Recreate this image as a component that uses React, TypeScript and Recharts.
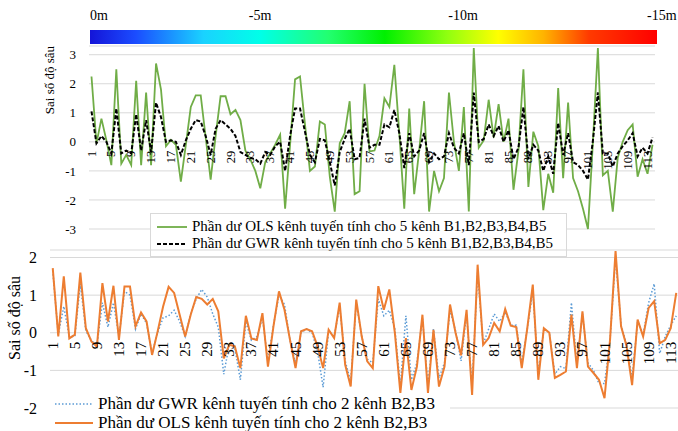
import { LineChart, Line, XAxis, YAxis, CartesianGrid, Legend } from "recharts";

const SERIF = '"Liberation Serif", "Times New Roman", serif';

// category labels 1..114 (sample points)
const categories = Array.from({ length: 114 }, (_, i) => String(i + 1));

// residuals, 5 bands model (top panel)
const olsFiveBands = [
  2.25, -0.05, 0.8, 0.05, -0.8, 2.5, -0.75, -0.45, -0.8, 2.1,
  -0.8, 1.7, -0.8, 2.7, 1.8, -0.15, 0.07, -0.1, -1.37, -0.1,
  1.2, 1.6, 1.6, 0.15, -1.3, 0.2, 1.57, 1.57, 0.95, 1.1,
  0.75, -0.3, -0.6, -1.0, -1.6, -0.7, -0.4, -0.1, 0.25, -2.3,
  -0.1, 2.15, 2.25, 0.6, -1.0, -0.85, 0.7, 0.6, -1.2, -2.4,
  -0.05, 0.3, 1.4, -1.8, -1.7, 2.0, -0.33, -0.3, 0.2, 1.5,
  1.2, 2.65, 0.3, -2.3, 1.15, -1.8, -0.3, 1.4, -2.4, -1.0,
  -1.7, -1.25, 1.7, 0.0, -1.0, 1.2, -2.4, 3.23, -0.2, 0.05,
  1.45, 0.15, 1.3, 0.0, 0.8, -1.65, -0.3, 2.5, -1.55, 0.35,
  -0.15, -2.35, -1.1, -1.75, 1.85, -1.25, 1.35, -1.25, -1.7, -2.3,
  -3.0, 0.0, 3.23, -1.15, -1.0, -2.4, -0.55, 0.0, 0.4, 0.6,
  -1.2, -0.6, -1.1, -0.1,
];
const gwrFiveBands = [
  1.05, -0.05, 0.2, 0.0, -0.4, 1.15, -0.4, -0.3, -0.4, 0.95,
  -0.3, 0.75, -0.35, 1.35, 0.85, 0.0, 0.05, 0.0, -0.45, 0.05,
  0.45, 0.75, 0.7, 0.2, -0.45, 0.45, 0.75, 0.6, 0.45, 0.2,
  -0.35, -0.45, -0.55, -0.6, -0.75, -0.35, -0.45, -0.15, 0.0, -1.0,
  0.2, 1.15, 1.15, 0.35, -0.45, -0.7, 0.1, 0.05, -0.7, -1.5,
  -0.35, 0.1, 0.45, -0.6, -0.55, 0.8, -0.2, -0.1, -0.1, 0.6,
  0.5, 1.1, 0.3, -0.9, 0.3, -0.5, -0.3, 0.3, -0.7, -0.4,
  -0.6, -0.5, 0.3, -0.2, -0.4, 0.3, -0.8, 1.7, 0.0, 0.1,
  0.6, 0.2, 0.55, 0.0, 0.4, -0.6, -0.2, 1.2, -0.6, -0.1,
  -0.3, -1.0, -0.5, -1.1, 0.65, -0.45, 0.3, -0.7, -0.8, -1.0,
  -1.3, 0.05, 1.7, -0.4, -0.4, -0.85, -0.4, -0.15, 0.05, 0.3,
  -0.5, -0.2, -0.4, 0.15,
];

// residuals, 2 bands model (bottom panel)
const gwrTwoBands = [
  1.65, -0.05, 0.7, -0.1, -0.1, 1.3, 0.05, -0.2, -0.35, 0.8,
  0.15, 0.8, -0.1, 1.1, 1.0, 0.1, 0.5, 0.25, -0.55, 0.0,
  0.4, 0.45, 0.6, 0.3, -0.1, 0.5, 0.9, 1.15, 0.95, 0.5,
  0.15, -1.1, -0.3, -0.4, -1.25, 0.3, -0.2, -0.1, 0.4, -0.75,
  0.2, 1.0, 0.75, -0.2, -0.8, 0.0, 0.1, 0.0, -0.5, -1.45,
  0.05, -0.1, 0.7, -0.75, -1.3, 0.8, -0.1, -0.7, -0.8, 0.9,
  0.45, 0.6, 0.1, -1.4, 0.45, -1.25, -0.8, 0.4, -1.4, 0.1,
  -1.2, -0.8, 0.6, 0.05, -0.75, 0.5, -1.4, 1.6, -0.3, 0.1,
  0.5, 0.3, 0.55, 0.2, 0.2, -0.8, 0.1, 1.1, -1.1, 0.1,
  0.0, -1.1, -0.9, -0.95, 0.8, -0.85, 0.5, -0.8, -1.0, -1.35,
  -1.35, -0.2, 2.0, 0.2, -0.3, -1.2, 0.3, -0.05, 0.8, 1.3,
  -0.55, -0.1, 0.2, 0.45,
];
const olsTwoBands = [
  1.72, -0.1, 1.5, -0.15, -0.05, 1.6, 0.12, -0.23, -0.37, 1.32,
  0.3, 1.25, -0.19, 1.23, 1.23, 0.17, 0.54, 0.3, -0.59, 0.03,
  0.7, 1.22, 1.06, 0.48, -0.1, 0.48, 0.95, 0.9, 0.75, 0.9,
  0.57, -0.68, -0.32, -0.36, -0.94, 0.45, -0.15, -0.19, 0.52, -0.9,
  0.17, 1.1, 0.61, -0.19, -0.94, 0.04, 0.1, 0.04, -0.36, -0.94,
  0.08, -0.14, 0.8, -0.85, -1.43, 0.88, -0.1, -0.76, -0.94, 1.24,
  0.61, 1.15, 0.0, -1.6, -0.14, -1.52, -0.9, 0.48, -1.6, 0.08,
  -1.43, -0.9, 0.75, 0.0, -0.6, 0.61, -1.65, 1.81, -0.32, -0.14,
  0.26, 0.04, 0.63, 0.19, 0.15, -0.94, 0.12, 1.28, -1.25, 0.12,
  0.0, -1.2, -1.12, -1.03, 0.48, -0.94, 0.57, -0.9, -1.07, -1.25,
  -1.74, -0.19, 2.17, 0.17, -0.36, -1.39, 0.35, -0.1, 0.66, 0.84,
  -0.28, -0.19, 0.12, 1.06,
];

const topTicks = [-3, -2, -1, 0, 1, 2, 3];
const bottomTicks = [-2, -1, 0, 1, 2];
const depthLabels = ["0m", "-5m", "-10m", "-15m"];

const topSeries = [
  { key: "ols5", name: "Phần dư OLS kênh tuyến tính cho 5 kênh B1,B2,B3,B4,B5", color: "#70ad47", width: 1.8, dash: undefined },
  { key: "gwr5", name: "Phần dư GWR kênh tuyến tính cho 5 kênh B1,B2,B3,B4,B5", color: "#000000", width: 2, dash: "4 2" },
];
const bottomSeries = [
  { key: "gwr2", name: "Phần dư GWR kênh tuyến tính cho 2 kênh B2,B3", color: "#5b9bd5", width: 1.5, dash: "1.5 2" },
  { key: "ols2", name: "Phần dư OLS kênh tuyến tính cho 2 kênh B2,B3", color: "#ed7d31", width: 2, dash: undefined },
];

const topData = categories.map((c, i) => ({ cat: c, ols5: olsFiveBands[i], gwr5: gwrFiveBands[i] }));
const bottomData = categories.map((c, i) => ({ cat: c, gwr2: gwrTwoBands[i], ols2: olsTwoBands[i] }));

// panel geometry: plot box = margins + axis sizes
const TOP = { w: 678, h: 240, m: { top: 46, right: 23, bottom: 0, left: 59 }, yW: 30, xH: 11, dom: [-3, 3.3] };
const BOT = { w: 679, h: 191, m: { top: 10, right: 0, bottom: 0, left: 20 }, yW: 30, xH: 23, dom: [-2, 2.2] };

const zeroOf = (p: typeof TOP) => {
  const plotH = p.h - p.m.top - p.m.bottom - p.xH;
  return p.m.top + (p.dom[1] / (p.dom[1] - p.dom[0])) * plotH;
};

const makeTick = (zeroY: number, fontSize: number) => (props: any) => {
  const { x, payload } = props;
  return (
    <text
      transform={`translate(${x},${zeroY + 9}) rotate(-90)`}
      textAnchor="end"
      dominantBaseline="central"
      fontSize={fontSize}
      fontFamily={SERIF}
      fill="#000"
    >
      {payload.value}
    </text>
  );
};

const LegendBox = ({ series, fontSize, rowH, sampleW, pad, border }: any) => (
  <div style={{ background: "#fff", border: border ? "1px solid #d9d9d9" : "none", padding: pad }}>
    {series.map((s: any) => (
      <div key={s.key} style={{ display: "flex", alignItems: "center", height: rowH }}>
        <svg width={sampleW} height={6}>
          <line x1={0} x2={sampleW} y1={3} y2={3} stroke={s.color} strokeWidth={s.width} strokeDasharray={s.dash} />
        </svg>
        <span style={{ marginLeft: 5, fontFamily: SERIF, fontSize, color: "#000", whiteSpace: "nowrap", lineHeight: 1 }}>
          {s.name}
        </span>
      </div>
    ))}
  </div>
);

const AxisTitle = ({ x, y, size }: { x: number; y: number; size: number }) => (
  <div
    style={{
      position: "absolute",
      left: x,
      top: y,
      transform: "translate(-50%,-50%) rotate(-90deg)",
      whiteSpace: "nowrap",
      fontFamily: SERIF,
      fontSize: size,
      color: "#000",
    }}
  >
    Sai số độ sâu
  </div>
);

const DepthBar = () => (
  <svg width={678} height={46} style={{ position: "absolute", left: 0, top: 0 }}>
    <defs>
      <linearGradient id="depth" x1="0" x2="1" y1="0" y2="0">
        <stop offset="0" stopColor="#1414d8" />
        <stop offset="0.08" stopColor="#1b4cff" />
        <stop offset="0.2" stopColor="#1ad2ff" />
        <stop offset="0.3" stopColor="#00ffe8" />
        <stop offset="0.42" stopColor="#22ff70" />
        <stop offset="0.52" stopColor="#00f000" />
        <stop offset="0.63" stopColor="#90ff10" />
        <stop offset="0.72" stopColor="#ffff00" />
        <stop offset="0.8" stopColor="#ffb300" />
        <stop offset="0.88" stopColor="#ff3a00" />
        <stop offset="1" stopColor="#ff0000" />
      </linearGradient>
    </defs>
    <rect x={90} y={30} width={567} height={14} fill="url(#depth)" />
    <g fontFamily={SERIF} fontSize={14} fill="#000">
      <text x={90} y={20}>{depthLabels[0]}</text>
      <text x={260} y={20} textAnchor="middle">{depthLabels[1]}</text>
      <text x={463} y={20} textAnchor="middle">{depthLabels[2]}</text>
      <text x={647} y={20}>{depthLabels[3]}</text>
    </g>
  </svg>
);

const App = () => {
  return (
    <div
      style={{
        position: "fixed",
        left: 0,
        top: 0,
        width: 678,
        height: 431,
        overflow: "hidden",
        background: "#fff",
      }}
    >
      <DepthBar />

      <div style={{ position: "absolute", left: 0, top: 0 }}>
        <LineChart width={TOP.w} height={TOP.h} data={topData} margin={TOP.m}>
          <CartesianGrid vertical={false} stroke="#d9d9d9" />
          <XAxis
            dataKey="cat"
            height={TOP.xH}
            axisLine={false}
            tickLine={false}
            interval={3}
            padding={{ left: 2.5, right: 2.5 }}
            tick={makeTick(zeroOf(TOP), 12.5)}
          />
          <YAxis
            width={TOP.yW}
            domain={TOP.dom}
            ticks={topTicks}
            axisLine={false}
            tickLine={false}
            tickSize={0}
            tickMargin={13}
            tick={{ fontFamily: SERIF, fontSize: 13, fill: "#000" }}
          />
          {topSeries.map((s) => (
            <Line
              key={s.key}
              dataKey={s.key}
              name={s.name}
              stroke={s.color}
              strokeWidth={s.width}
              strokeDasharray={s.dash}
              dot={false}
              isAnimationActive={false}
            />
          ))}
          <Legend
            layout="vertical"
            align="center"
            verticalAlign="middle"
            wrapperStyle={{ left: 150, top: 213, width: 417 }}
            content={() => (
              <LegendBox series={topSeries} fontSize={15} rowH={17} sampleW={30} pad="4px 6px" border />
            )}
          />
        </LineChart>
      </div>

      <div style={{ position: "absolute", left: 0, top: 240 }}>
        <LineChart width={BOT.w} height={BOT.h} data={bottomData} margin={BOT.m}>
          <CartesianGrid vertical={false} stroke="#d9d9d9" />
          <XAxis
            dataKey="cat"
            height={BOT.xH}
            axisLine={false}
            tickLine={false}
            interval={3}
            padding={{ left: 2.75, right: 2.75 }}
            tick={makeTick(zeroOf(BOT), 15)}
          />
          <YAxis
            width={BOT.yW}
            domain={BOT.dom}
            ticks={bottomTicks}
            axisLine={false}
            tickLine={false}
            tickSize={0}
            tickMargin={13}
            tick={{ fontFamily: SERIF, fontSize: 16, fill: "#000" }}
          />
          {bottomSeries.map((s) => (
            <Line
              key={s.key}
              dataKey={s.key}
              name={s.name}
              stroke={s.color}
              strokeWidth={s.width}
              strokeDasharray={s.dash}
              dot={false}
              isAnimationActive={false}
            />
          ))}
          <Legend
            layout="vertical"
            align="center"
            verticalAlign="middle"
            wrapperStyle={{ left: 50, top: 153, width: 400 }}
            content={() => (
              <LegendBox series={bottomSeries} fontSize={17} rowH={19} sampleW={38} pad="1px 5px" />
            )}
          />
        </LineChart>
      </div>

      <AxisTitle x={50} y={80} size={13} />
      <AxisTitle x={15} y={318} size={16} />
    </div>
  );
};

export default App;
